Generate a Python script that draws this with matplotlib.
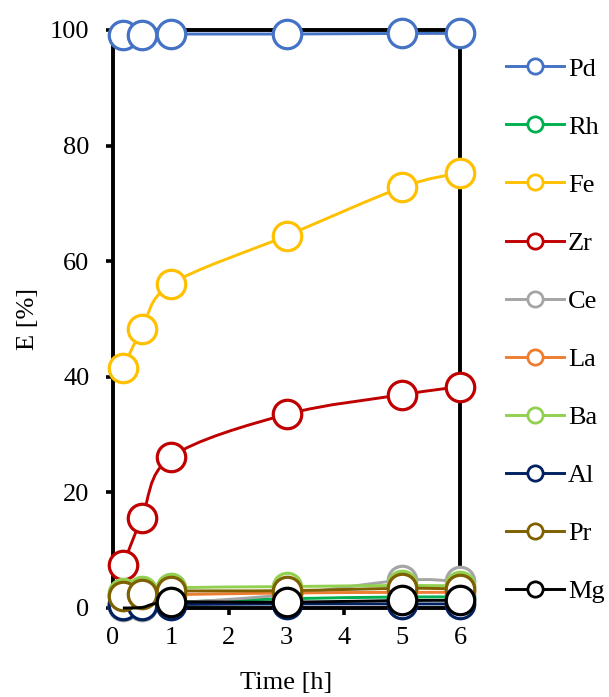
import numpy as np
import matplotlib
matplotlib.use("Agg")
from matplotlib import pyplot as plt
from matplotlib.path import Path
from matplotlib.patches import PathPatch
from matplotlib.lines import Line2D

plt.rcParams['font.family'] = ['Liberation Serif', 'DejaVu Serif']

time_h = [0.17, 0.5, 1, 3, 5, 6]

names = ['Pd', 'Rh', 'Fe', 'Zr', 'Ce', 'La', 'Ba', 'Al', 'Pr', 'Mg']
colors = ['#4472C4', '#00B050', '#FFC000', '#C00000', '#A5A5A5',
          '#ED7D31', '#92D050', '#002060', '#7F6000', '#000000']

pd_e = [99.2, 99.2, 99.3, 99.3, 99.4, 99.4]
rh_e = [0.8, 0.9, 1.0, 1.6, 1.9, 1.9]
fe_e = [41.5, 48.2, 56.0, 64.4, 72.8, 75.3]
zr_e = [7.4, 15.6, 26.1, 33.5, 36.9, 38.3]
ce_e = [0.3, 0.3, 0.8, 2.3, 4.8, 4.6]
la_e = [2.0, 2.2, 2.3, 2.6, 2.7, 2.7]
ba_e = [2.6, 3.0, 3.5, 3.7, 3.9, 3.8]
al_e = [0.6, 0.6, 0.6, 0.7, 0.7, 0.7]
pr_e = [2.1, 2.4, 2.9, 3.0, 3.4, 3.3]
mg_e = [0.0, 0.1, 1.0, 1.0, 1.3, 1.3]

series = [pd_e, rh_e, fe_e, zr_e, ce_e, la_e, ba_e, al_e, pr_e, mg_e]
# Mg has no markers on the first two points
mark_idx = {'Mg': [2, 3, 4, 5]}


def smooth_path(x, y):
    # Catmull-Rom -> cubic bezier, like Excel's "smoothed line"
    pts = np.column_stack([x, y]).astype(float)
    n = len(pts)
    verts = [pts[0]]
    codes = [Path.MOVETO]
    for i in range(n - 1):
        p0 = pts[i - 1] if i > 0 else pts[i]
        p1 = pts[i]
        p2 = pts[i + 1]
        p3 = pts[i + 2] if i + 2 < n else pts[i + 1]
        c1 = p1 + (p2 - p0) / 6.0
        c2 = p2 - (p3 - p1) / 6.0
        verts += [c1, c2, p2]
        codes += [Path.CURVE4] * 3
    return Path(verts, codes)


fig = plt.figure(figsize=(6.09, 6.97), dpi=100)
ax = fig.add_axes([0.1856, 0.1277, 0.5697, 0.8293])

fs = 19
lw = 2.1
for k, (name, vals, col) in enumerate(zip(names, series, colors)):
    z = 3 + k * 0.1
    patch = PathPatch(smooth_path(time_h, vals), facecolor='none', edgecolor=col,
                      lw=lw, zorder=z, clip_on=False)
    ax.add_patch(patch)
    idx = mark_idx.get(name, list(range(len(time_h))))
    ax.plot([time_h[i] for i in idx], [vals[i] for i in idx], ls='none', marker='o',
            ms=20.5, mfc='white', mec=col, mew=2.3, zorder=z + 0.05, clip_on=False)

ax.set_xlim(0, 6)
ax.set_ylim(0, 100)
ax.set_xticks(range(0, 7))
ax.set_yticks(range(0, 101, 20))
for s in ax.spines.values():
    s.set_linewidth(2.8)
    s.set_zorder(2)
ax.tick_params(direction='out', length=5, width=2.6, labelsize=fs)
ax.tick_params(axis='y', pad=12)
ax.tick_params(axis='x', pad=9)
ax.set_xlabel('Time [h]', fontsize=fs, labelpad=16)
ax.set_ylabel('E [%]', fontsize=fs, labelpad=8)

handles = [Line2D([], [], color=c, lw=lw, marker='o', ms=11, mfc='white', mec=c, mew=2.0)
           for c in colors]
fig.legend(handles, names, loc='upper left', bbox_to_anchor=(0.831, 0.918),
           frameon=False, fontsize=fs, borderpad=0, borderaxespad=0,
           handlelength=2.2, handletextpad=0.15, labelspacing=1.31)

fig.savefig('out.png', dpi=100)
